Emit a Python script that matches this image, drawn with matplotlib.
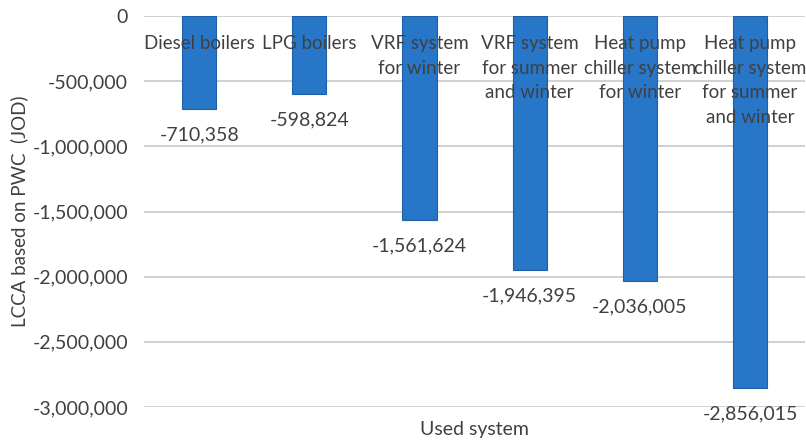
import matplotlib.pyplot as plt
from matplotlib.ticker import FuncFormatter

# chart data
systems = ["Diesel boilers", "LPG boilers", "VRF system\nfor winter",
           "VRF system\nfor summer\nand winter", "Heat pump\nchiller system\nfor winter",
           "Heat pump\nchiller system\nfor summer\nand winter"]
lcca = [-710358, -598824, -1561624, -1946395, -2036005, -2856015]
yticks = [0, -500000, -1000000, -1500000, -2000000, -2500000, -3000000]

txt = "#404040"
plt.rcParams['font.family'] = ['Lato', 'DejaVu Sans']

fig = plt.figure(figsize=(8.06, 4.41), dpi=100)
ax = fig.add_axes([0.1787, 0.0771, 0.8203, 0.8866])

x = range(len(systems))
bars = ax.bar(x, lcca, width=0.31, color="#2876c8", edgecolor="#1f5fa8", linewidth=0.8, zorder=2)

ax.set_xlim(-0.5, len(systems) - 0.5)
ax.set_ylim(-3000000, 0)
ax.set_yticks(yticks)
ax.yaxis.set_major_formatter(FuncFormatter(lambda v, p: "{:,.0f}".format(v)))
ax.tick_params(axis='y', length=0, pad=11.5, labelsize=14, labelcolor=txt)
ax.set_xticks([])
for s in ax.spines.values():
    s.set_visible(False)
ax.yaxis.grid(True, color="#c8c8c8", linewidth=1.2, zorder=0)
ax.set_axisbelow(True)

# category names drawn inside the plot, over the bars
for i, name in enumerate(systems):
    ax.text(i, -146000, name, ha='center', va='top', color=txt, fontsize=13.5,
            linespacing=1.54, zorder=3)

# value labels under the bar ends
for b, v in zip(bars, lcca):
    ax.annotate("{:,}".format(v), (b.get_x() + b.get_width() / 2, v),
                xytext=(0, -12.5), textcoords='offset points', ha='center', va='top',
                color=txt, fontsize=14, zorder=3, annotation_clip=False)

ax.set_ylabel("LCCA based on PWC  (JOD)", color=txt, fontsize=13.5, labelpad=3)
ax.set_xlabel("Used system", color=txt, fontsize=14, labelpad=10)

fig.savefig("out.png", dpi=100)
